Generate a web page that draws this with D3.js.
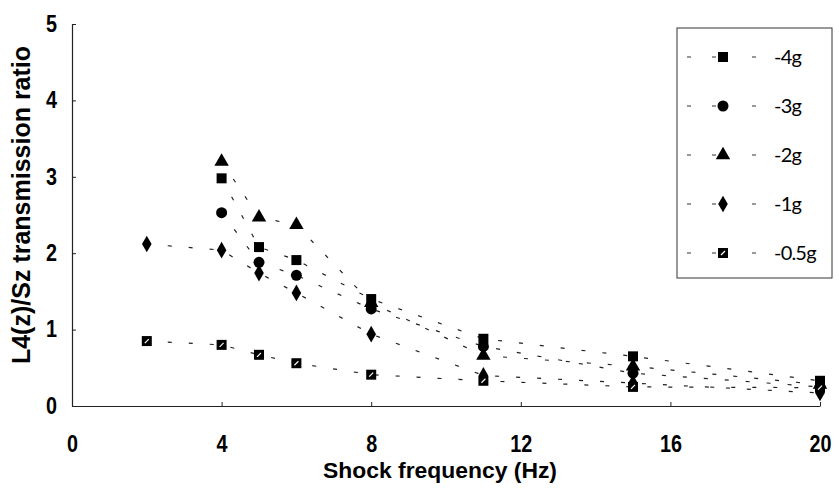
<!DOCTYPE html>
<html>
<head>
<meta charset="utf-8">
<script src="https://cdn.jsdelivr.net/npm/d3@7"></script>
<style>
  html, body { margin: 0; padding: 0; background: #fff; }
  svg { display: block; }
</style>
</head>
<body>
<svg id="chart" width="839" height="504"></svg>
<script>
// Transmission ratio L4(z)/Sz versus shock frequency, one series per acceleration level
const seriesNames = ["-4g", "-3g", "-2g", "-1g", "-0.5g"];
const symbols     = ["square", "circle", "triangle", "diamond", "crossSquare"];

const freq4g  = [4, 5, 6, 8, 11, 15, 20];
const ratio4g = [2.98, 2.08, 1.91, 1.40, 0.88, 0.65, 0.33];

const freq3g  = [4, 5, 6, 8, 11, 15, 20];
const ratio3g = [2.53, 1.88, 1.71, 1.27, 0.78, 0.43, 0.25];

const freq2g  = [4, 5, 6, 8, 11, 15, 20];
const ratio2g = [3.20, 2.47, 2.37, 1.35, 0.66, 0.52, 0.28];

const freq1g  = [2, 4, 5, 6, 8, 11, 15, 20];
const ratio1g = [2.12, 2.04, 1.74, 1.48, 0.94, 0.40, 0.30, 0.17];

const freq05g  = [2, 4, 5, 6, 8, 11, 15, 20];
const ratio05g = [0.85, 0.80, 0.67, 0.56, 0.41, 0.33, 0.25, 0.24];

const xTicks = [0, 4, 8, 12, 16, 20];
const yTicks = [0, 1, 2, 3, 4, 5];

const xTitle = "Shock frequency (Hz)";
const yTitle = "L4(z)/Sz transmission ratio";

const seriesFreqs  = [freq4g, freq3g, freq2g, freq1g, freq05g];
const seriesRatios = [ratio4g, ratio3g, ratio2g, ratio1g, ratio05g];
const series = seriesNames.map((name, i) => ({
  name,
  symbol: symbols[i],
  points: seriesFreqs[i].map((f, j) => ({ f, r: seriesRatios[i][j] }))
}));

const svg = d3.select("#chart");
const plot = { left: 72, right: 820, top: 24, bottom: 406 };

const x = d3.scaleLinear().domain([0, 20]).range([plot.left, plot.right]);
const y = d3.scaleLinear().domain([0, 5]).range([plot.bottom, plot.top]);

const boldFont = "'Liberation Sans', Arial, sans-serif";

// Axes with short inward ticks
const xAxis = svg.append("g")
  .attr("transform", `translate(0,${plot.bottom})`)
  .call(d3.axisBottom(x).tickValues(xTicks).tickFormat(d3.format("d"))
    .tickSizeInner(-4).tickSizeOuter(0).tickPadding(30));
const yAxis = svg.append("g")
  .attr("transform", `translate(${plot.left},0)`)
  .call(d3.axisLeft(y).tickValues(yTicks).tickFormat(d3.format("d"))
    .tickSizeInner(-4).tickSizeOuter(0).tickPadding(15));

[xAxis, yAxis].forEach(g => {
  g.select(".domain").attr("stroke", "#222").attr("stroke-width", 1.2);
  g.selectAll(".tick line").attr("stroke", "#222").attr("stroke-width", 1);
  g.selectAll(".tick text")
    .attr("fill", "#000")
    .style("font-family", boldFont)
    .style("font-weight", "bold")
    .style("font-size", "23px");
});
// Condensed digits: squeeze each label horizontally around its anchor
xAxis.selectAll(".tick text").attr("transform", "scale(0.86,1)");
yAxis.selectAll(".tick text").each(function () {
  const t = d3.select(this);
  const ax = +t.attr("x");
  t.attr("transform", `translate(${ax},0) scale(0.86,1) translate(${-ax},0)`);
});

// Axis titles
svg.append("text")
  .attr("x", 440)
  .attr("y", 478)
  .attr("text-anchor", "middle")
  .attr("textLength", 234)
  .attr("lengthAdjust", "spacingAndGlyphs")
  .style("font-family", boldFont)
  .style("font-weight", "bold")
  .style("font-size", "22px")
  .text(xTitle);

svg.append("text")
  .attr("transform", `translate(21,205) rotate(-90)`)
  .attr("text-anchor", "middle")
  .attr("dy", "0.35em")
  .style("font-family", boldFont)
  .style("font-weight", "bold")
  .style("font-size", "25px")
  .text(yTitle);

// Marker drawing
const symbolGen = {
  square:   d3.symbol().type(d3.symbolSquare).size(100),
  circle:   d3.symbol().type(d3.symbolCircle).size(95),
  triangle: d3.symbol().type(d3.symbolTriangle).size(90),
  diamond:  d3.symbol().type(d3.symbolDiamond).size(80),
  crossSquare: d3.symbol().type(d3.symbolSquare).size(100)
};

function drawMarker(g, symbol) {
  g.append("path").attr("d", symbolGen[symbol]()).attr("fill", "#000");
  if (symbol === "crossSquare") {
    g.append("line")
      .attr("x1", -2).attr("y1", 2).attr("x2", 2).attr("y2", -2)
      .attr("stroke", "#fff").attr("stroke-width", 1.2);
  }
}

// Sparse dotted connecting lines
const line = d3.line().x(d => x(d.f)).y(d => y(d.r));
const seriesG = svg.append("g");
series.forEach(s => {
  seriesG.append("path")
    .datum(s.points)
    .attr("d", line)
    .attr("fill", "none")
    .attr("stroke", "#222")
    .attr("stroke-width", 1.2)
    .attr("stroke-dasharray", "4,17");
});
series.forEach(s => {
  seriesG.selectAll(null)
    .data(s.points)
    .enter().append("g")
    .attr("transform", d => `translate(${x(d.f)},${y(d.r)})`)
    .each(function () { drawMarker(d3.select(this), s.symbol); });
});

// Legend
const legend = svg.append("g");
const lg = { left: 677, top: 28, right: 832, bottom: 278, row0: 57, rowStep: 49 };
legend.append("rect")
  .attr("x", lg.left).attr("y", lg.top)
  .attr("width", lg.right - lg.left).attr("height", lg.bottom - lg.top)
  .attr("fill", "#fff").attr("stroke", "#333").attr("stroke-width", 1);

series.forEach((s, i) => {
  const row = legend.append("g").attr("transform", `translate(0,${lg.row0 + i * lg.rowStep})`);
  row.append("line")
    .attr("x1", 687).attr("x2", 760).attr("y1", 0).attr("y2", 0)
    .attr("stroke", "#333").attr("stroke-width", 1.2)
    .attr("stroke-dasharray", "4,21,4,36,4,100");
  const m = row.append("g").attr("transform", "translate(723,0)");
  drawMarker(m, s.symbol);
  row.append("text")
    .attr("x", 774).attr("y", 0).attr("dy", "0.35em")
    .style("font-family", "Lato, 'Liberation Sans', Arial, sans-serif")
    .style("font-size", "20px")
    .style("letter-spacing", "-0.8px")
    .text(s.name);
});
</script>
</body>
</html>
